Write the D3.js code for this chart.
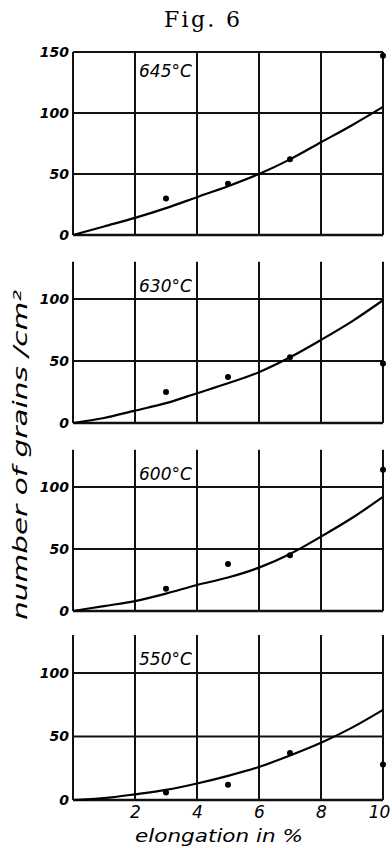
<!DOCTYPE html>
<html>
<head>
<meta charset="utf-8">
<script src="https://cdn.jsdelivr.net/npm/d3@7"></script>
<style>
  body { margin: 0; background: #fff; }
  svg { display: block; }
  .tick text { font-family: "DejaVu Sans", sans-serif; font-style: italic; }
</style>
</head>
<body>
<div id="chart"></div>
<script>
// values
var temps = ["645°C", "630°C", "600°C", "550°C"];
var pointX = [3, 5, 7, 10];
var points645 = [30, 42, 62, 147];
var points630 = [25, 37, 53, 48];
var points600 = [18, 38, 45, 114];
var points550 = [6, 12, 37, 28];

var curveX = [0, 1, 2, 3, 4, 5, 6, 7, 8, 9, 10];
var curve645 = [0, 7, 14, 22, 31, 40, 50, 62, 76, 90, 105];
var curve630 = [0, 4, 10, 16, 24, 32, 41, 53, 67, 82, 99];
var curve600 = [0, 4, 8, 14, 21, 27, 35, 46, 60, 75, 92];
var curve550 = [0, 1.5, 4.5, 8, 13, 19, 26, 35, 45, 57, 71];

var yTicksTop = [0, 50, 100, 150];
var yTicks = [0, 50, 100];
var xTicks = [2, 4, 6, 8, 10];

var pointSets = [points645, points630, points600, points550];
var curveSets = [curve645, curve630, curve600, curve550];

// layout of the four stacked panels (pixel y of 0 and of 100)
var panels = [
  {zero: 235, hundred: 113, top: 150, ticks: yTicksTop},
  {zero: 423, hundred: 299, top: 130, ticks: yTicks},
  {zero: 611, hundred: 487, top: 130, ticks: yTicks},
  {zero: 800, hundred: 673, top: 130, ticks: yTicks}
];

var width = 392, height = 848;

var svg = d3.select("#chart").append("svg")
    .attr("width", width)
    .attr("height", height);

var x = d3.scaleLinear().domain([0, 10]).range([73, 383]);

// title
svg.append("text")
    .attr("x", 202)
    .attr("y", 27)
    .attr("text-anchor", "middle")
    .attr("textLength", 76)
    .attr("lengthAdjust", "spacing")
    .style("font-family", "'DejaVu Serif', serif")
    .style("font-size", "22px")
    .text("Fig. 6");

panels.forEach(function(p, i) {
  var y = d3.scaleLinear()
      .domain([0, 100])
      .range([p.zero, p.hundred]);

  var g = svg.append("g");

  // horizontal grid lines
  g.selectAll(".h")
      .data(p.ticks)
    .enter().append("line")
      .attr("x1", x(0))
      .attr("x2", x(10))
      .attr("y1", function(d) { return y(d); })
      .attr("y2", function(d) { return y(d); })
      .attr("stroke", "#111")
      .attr("stroke-width", function(d) { return d === 0 ? 2.6 : 2; });

  // vertical grid lines
  g.selectAll(".v")
      .data([0].concat(xTicks))
    .enter().append("line")
      .attr("x1", function(d) { return x(d); })
      .attr("x2", function(d) { return x(d); })
      .attr("y1", y(0))
      .attr("y2", y(p.top))
      .attr("stroke", "#111")
      .attr("stroke-width", 2);

  // y tick labels
  var yAxis = d3.axisLeft(y)
      .tickValues(p.ticks)
      .tickSize(0)
      .tickPadding(4);
  g.append("g")
      .attr("transform", "translate(" + x(0) + ",0)")
      .call(yAxis)
      .call(function(a) { a.select(".domain").remove(); })
      .selectAll("text")
      .attr("dy", "0.3em")
      .style("font-size", "14px")
      .style("font-weight", "bold");

  // temperature label
  g.append("text")
      .attr("x", x(2) + 4)
      .attr("y", y(p.top) + (i === 0 ? 25 : 30))
      .style("font-family", "'DejaVu Sans', sans-serif")
      .style("font-style", "italic")
      .style("font-size", "17px")
      .text(temps[i]);

  // fitted curve
  var line = d3.line()
      .x(function(d) { return x(d[0]); })
      .y(function(d) { return y(d[1]); })
      .curve(d3.curveMonotoneX);
  g.append("path")
      .datum(d3.zip(curveX, curveSets[i]))
      .attr("d", line)
      .attr("fill", "none")
      .attr("stroke", "#000")
      .attr("stroke-width", 2.2);

  // measured points
  g.selectAll("circle")
      .data(d3.zip(pointX, pointSets[i]))
    .enter().append("circle")
      .attr("cx", function(d) { return x(d[0]); })
      .attr("cy", function(d) { return y(d[1]); })
      .attr("r", 3)
      .attr("fill", "#000");

  // x tick labels only on the bottom panel
  if (i === panels.length - 1) {
    var xAxis = d3.axisBottom(x)
        .tickValues(xTicks)
        .tickSize(0)
        .tickPadding(6);
    g.append("g")
        .attr("transform", "translate(0," + y(0) + ")")
        .call(xAxis)
        .call(function(a) { a.select(".domain").remove(); })
        .selectAll("text")
        .style("font-size", "17px")
        .attr("text-anchor", function(d) { return d === 10 ? "end" : "middle"; })
        .attr("dx", function(d) { return d === 10 ? "0.4em" : 0; });
  }
});

// axis titles
svg.append("text")
    .attr("x", 219)
    .attr("y", 842)
    .attr("text-anchor", "middle")
    .attr("textLength", 168)
    .attr("lengthAdjust", "spacingAndGlyphs")
    .style("font-family", "'DejaVu Sans', sans-serif")
    .style("font-style", "italic")
    .style("font-size", "17px")
    .text("elongation in %");

svg.append("text")
    .attr("transform", "translate(27,455) rotate(-90)")
    .attr("text-anchor", "middle")
    .attr("textLength", 330)
    .attr("lengthAdjust", "spacingAndGlyphs")
    .style("font-family", "'DejaVu Sans', sans-serif")
    .style("font-style", "italic")
    .style("font-size", "19px")
    .text("number of grains /cm²");
</script>
</body>
</html>
